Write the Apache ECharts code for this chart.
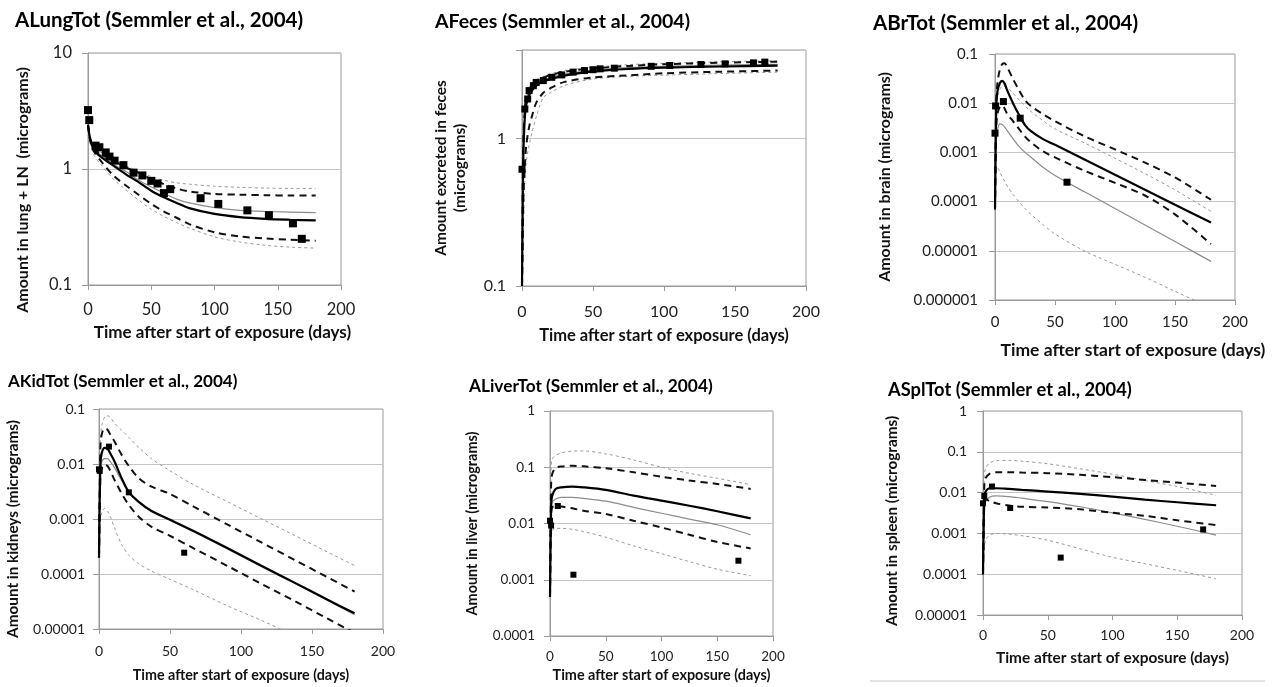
<!DOCTYPE html>
<html>
<head>
<meta charset="utf-8">
<title>Semmler et al., 2004</title>
<script src="https://cdn.jsdelivr.net/npm/echarts@6/dist/echarts.min.js"></script>
<style>
  html, body { margin: 0; padding: 0; background: #fff; }
  #chart { width: 1284px; height: 687px; }
</style>
</head>
<body>
<div id="chart"></div>
<script>
'use strict';

// ALungTot
var lungT    = [0, 2, 5, 10, 20, 30, 40, 50, 60, 70, 80, 100, 120, 140, 160, 180];
var lungMed  = [2.4, 1.75, 1.45, 1.28, 1.07, 0.9, 0.77, 0.65, 0.57, 0.51, 0.46, 0.41, 0.385, 0.372, 0.365, 0.36];
var lungMean = [2.4, 1.8, 1.5, 1.32, 1.1, 0.95, 0.8, 0.7, 0.62, 0.55, 0.51, 0.465, 0.44, 0.43, 0.425, 0.42];
var lungP75  = [2.4, 1.8, 1.5, 1.35, 1.18, 1.03, 0.93, 0.82, 0.74, 0.68, 0.64, 0.61, 0.6, 0.595, 0.59, 0.59];
var lungP95  = [2.4, 1.85, 1.55, 1.4, 1.22, 1.07, 0.95, 0.86, 0.8, 0.76, 0.74, 0.71, 0.695, 0.685, 0.68, 0.68];
var lungP25  = [2.4, 1.7, 1.4, 1.18, 0.88, 0.72, 0.6, 0.5, 0.43, 0.38, 0.335, 0.285, 0.262, 0.252, 0.246, 0.241];
var lungP5   = [2.4, 1.65, 1.3, 1.1, 0.82, 0.66, 0.54, 0.45, 0.39, 0.345, 0.31, 0.26, 0.235, 0.22, 0.212, 0.208];
var lungObsT = [0, 1, 6, 9, 14, 17, 21, 28, 36, 43, 50, 55, 60, 65, 89, 103, 126, 143, 162, 169];
var lungObs  = [3.22, 2.64, 1.59, 1.54, 1.39, 1.28, 1.18, 1.08, 0.93, 0.88, 0.79, 0.75, 0.62, 0.67, 0.56, 0.5, 0.44, 0.4, 0.34, 0.25];

// AFeces
var fecT    = [0, 0.5, 1, 2, 3, 5, 7, 10, 15, 20, 30, 50, 75, 100, 140, 180];
var fecMed  = [0.1, 0.35, 0.8, 1.4, 1.7, 1.96, 2.12, 2.29, 2.45, 2.54, 2.68, 2.86, 2.98, 3.04, 3.09, 3.13];
var fecMean = [0.1, 0.4, 0.9, 1.5, 1.8, 2.05, 2.2, 2.35, 2.5, 2.6, 2.74, 2.92, 3.04, 3.1, 3.16, 3.2];
var fecP75  = [0.1, 0.5, 1.0, 1.6, 1.9, 2.15, 2.3, 2.45, 2.6, 2.7, 2.85, 3.0, 3.12, 3.2, 3.28, 3.33];
var fecP95  = [0.1, 0.55, 1.1, 1.7, 2.0, 2.25, 2.4, 2.52, 2.65, 2.75, 2.9, 3.05, 3.18, 3.25, 3.33, 3.38];
var fecP25  = [0.1, 0.2, 0.4, 0.65, 0.9, 1.2, 1.42, 1.75, 2.05, 2.2, 2.43, 2.6, 2.69, 2.78, 2.85, 2.9];
var fecP5   = [0.1, 0.15, 0.25, 0.5, 0.7, 0.9, 1.1, 1.4, 1.9, 2.05, 2.3, 2.54, 2.65, 2.7, 2.77, 2.83];
var fecObsT = [0, 2, 4, 5, 8, 10, 15, 21, 28, 36, 44, 50, 55, 65, 91, 104, 126, 143, 163, 171];
var fecObs  = [0.62, 1.59, 1.86, 2.12, 2.29, 2.41, 2.48, 2.61, 2.71, 2.83, 2.9, 2.94, 2.98, 3.01, 3.1, 3.14, 3.19, 3.22, 3.27, 3.31];

// ABrTot
var brT    = [0, 1, 2, 4, 6, 8, 10, 15, 20, 25, 30, 40, 50, 75, 100, 125, 150, 180];
var brMed  = [0.00007, 0.0086, 0.0173, 0.0255, 0.0284, 0.025, 0.0187, 0.01, 0.0058, 0.0036, 0.0027, 0.00186, 0.00143, 0.00071, 0.00035, 0.000174, 0.000086, 0.0000376];
var brMean = [0.00007, 0.0015, 0.0028, 0.0038, 0.0037, 0.0033, 0.0028, 0.0019, 0.00132, 0.001, 0.0008, 0.0005, 0.00034, 0.000156, 0.0000723, 0.0000334, 0.0000154, 0.0000061];
var brP75  = [0.00007, 0.01, 0.025, 0.048, 0.062, 0.065, 0.055, 0.031, 0.0185, 0.0115, 0.0087, 0.006, 0.0043, 0.0021, 0.00115, 0.00062, 0.00031, 0.000109];
var brP95  = [0.00007, 0.006, 0.012, 0.019, 0.022, 0.022, 0.021, 0.016, 0.0117, 0.0088, 0.0068, 0.0044, 0.003, 0.00154, 0.00076, 0.00037, 0.000173, 0.0000632];
var brP25  = [0.00007, 0.003, 0.006, 0.0085, 0.009, 0.0078, 0.0062, 0.0043, 0.003, 0.0021, 0.0016, 0.00105, 0.00079, 0.00042, 0.00024, 0.000133, 0.000055, 0.0000137];
var brP5   = [0.00007, 0.00045, 0.00048, 0.0004, 0.00032, 0.00026, 0.00021, 0.00014, 0.0001, 0.000072, 0.000055, 0.000034, 0.000022, 0.0000098, 0.0000053, 0.0000029, 0.0000015, 0.0000007];
var brObsT = [0, 0.5, 7, 21, 60];
var brObs  = [0.00246, 0.0088, 0.0108, 0.00496, 0.000248];

// AKidTot
var kidT    = [0, 1, 2, 4, 6, 8, 11, 16, 21, 28, 37, 49, 67, 91, 114, 138, 161, 180];
var kidMed  = [0.0002, 0.01, 0.016, 0.0197, 0.019, 0.0155, 0.011, 0.0055, 0.0031, 0.00205, 0.0014, 0.001, 0.0006, 0.00029, 0.000143, 0.000069, 0.000034, 0.0000193];
var kidMean = [0.0002, 0.0075, 0.011, 0.0125, 0.0125, 0.011, 0.0085, 0.005, 0.003, 0.002, 0.00137, 0.00097, 0.00058, 0.00028, 0.000138, 0.000067, 0.000033, 0.0000182];
var kidP75  = [0.0002, 0.02, 0.035, 0.0445, 0.042, 0.034, 0.0255, 0.0146, 0.0092, 0.0055, 0.00387, 0.00293, 0.00166, 0.00078, 0.00038, 0.000179, 0.000087, 0.000048];
var kidP95  = [0.0002, 0.03, 0.05, 0.072, 0.0755, 0.07, 0.055, 0.041, 0.0305, 0.02, 0.0125, 0.0078, 0.00415, 0.00203, 0.00102, 0.0005, 0.00025, 0.000142];
var kidP25  = [0.0002, 0.006, 0.0085, 0.0099, 0.0092, 0.0075, 0.0051, 0.0029, 0.0018, 0.0011, 0.00072, 0.00051, 0.00029, 0.000138, 0.000067, 0.000032, 0.0000154, 0.0000085];
var kidP5   = [0.0002, 0.0009, 0.0013, 0.00156, 0.0014, 0.0011, 0.00068, 0.00034, 0.00022, 0.000153, 0.000113, 0.000082, 0.000051, 0.000026, 0.0000145, 0.0000075, 0.000004, 0.0000025];
var kidObsT = [0, 0.5, 7, 21, 60];
var kidObs  = [0.008, 0.0075, 0.0207, 0.00305, 0.000244];

// ALiverTot
var livT    = [0, 1, 2, 5, 10, 20, 30, 50, 75, 100, 125, 150, 180];
var livMed  = [0.0005, 0.02, 0.0313, 0.0411, 0.044, 0.0453, 0.044, 0.0395, 0.0313, 0.0255, 0.0207, 0.0165, 0.0123];
var livMean = [0.0005, 0.017, 0.024, 0.0273, 0.0292, 0.0292, 0.028, 0.0249, 0.0194, 0.0152, 0.012, 0.0095, 0.0063];
var livP75  = [0.0005, 0.05, 0.076, 0.097, 0.103, 0.106, 0.104, 0.096, 0.0815, 0.068, 0.058, 0.0505, 0.0411];
var livP95  = [0.0005, 0.1, 0.14, 0.161, 0.18, 0.193, 0.195, 0.173, 0.135, 0.1, 0.078, 0.0637, 0.049];
var livP25  = [0.0005, 0.014, 0.0194, 0.0202, 0.02, 0.0186, 0.0169, 0.0148, 0.0112, 0.0085, 0.0063, 0.0047, 0.0036];
var livP5   = [0.0005, 0.005, 0.0076, 0.0081, 0.0082, 0.0079, 0.0072, 0.0057, 0.004, 0.0029, 0.0021, 0.00154, 0.00118];
var livObsT = [0, 1, 7, 21, 169];
var livObs  = [0.0112, 0.0092, 0.0205, 0.00123, 0.00218];

// ASplTot
var splT    = [0, 1, 2, 5, 10, 20, 30, 50, 75, 100, 125, 150, 180];
var splMed  = [0.0001, 0.008, 0.0106, 0.0128, 0.0128, 0.0123, 0.0117, 0.0106, 0.0093, 0.008, 0.0067, 0.0058, 0.0049];
var splMean = [0.0001, 0.004, 0.006, 0.0077, 0.0083, 0.008, 0.0073, 0.006, 0.0045, 0.0032, 0.0022, 0.0015, 0.00091];
var splP75  = [0.0001, 0.015, 0.0226, 0.0288, 0.0316, 0.0316, 0.031, 0.03, 0.0273, 0.0239, 0.0205, 0.0176, 0.0146];
var splP95  = [0.0001, 0.025, 0.0398, 0.0528, 0.0604, 0.0615, 0.059, 0.0509, 0.0383, 0.0283, 0.0198, 0.0141, 0.0086];
var splP25  = [0.0001, 0.0055, 0.0069, 0.0062, 0.0055, 0.0048, 0.0045, 0.0043, 0.0039, 0.0032, 0.0027, 0.0021, 0.0016];
var splP5   = [0.0001, 0.0004, 0.00068, 0.0009, 0.001, 0.00096, 0.00088, 0.00068, 0.00042, 0.00026, 0.000181, 0.000124, 0.0000773];
var splObsT = [0, 1, 7, 21, 60, 170];
var splObs  = [0.00546, 0.0083, 0.0141, 0.0042, 0.000255, 0.00125];

var xTitle = 'Time after start of exposure (days)';
var FONT = 'Lato, "Liberation Sans", sans-serif';

var panels = [
  {title: 'ALungTot (Semmler et al., 2004)', yName: 'Amount in lung + LN  (micrograms)', yMin: 0.1, yMax: 10,
   t: lungT, med: lungMed, mean: lungMean, p75: lungP75, p95: lungP95, p25: lungP25, p5: lungP5, obsT: lungObsT, obs: lungObs},
  {title: 'AFeces (Semmler et al., 2004)', yName: 'Amount excreted in feces\n(micrograms)', yMin: 0.1, yMax: 4,
   t: fecT, med: fecMed, mean: fecMean, p75: fecP75, p95: fecP95, p25: fecP25, p5: fecP5, obsT: fecObsT, obs: fecObs},
  {title: 'ABrTot (Semmler et al., 2004)', yName: 'Amount in brain (micrograms)', yMin: 0.000001, yMax: 0.1,
   t: brT, med: brMed, mean: brMean, p75: brP75, p95: brP95, p25: brP25, p5: brP5, obsT: brObsT, obs: brObs},
  {title: 'AKidTot (Semmler et al., 2004)', yName: 'Amount in kidneys (micrograms)', yMin: 0.00001, yMax: 0.1,
   t: kidT, med: kidMed, mean: kidMean, p75: kidP75, p95: kidP95, p25: kidP25, p5: kidP5, obsT: kidObsT, obs: kidObs},
  {title: 'ALiverTot (Semmler et al., 2004)', yName: 'Amount in liver (micrograms)', yMin: 0.0001, yMax: 1,
   t: livT, med: livMed, mean: livMean, p75: livP75, p95: livP95, p25: livP25, p5: livP5, obsT: livObsT, obs: livObs},
  {title: 'ASplTot (Semmler et al., 2004)', yName: 'Amount in spleen (micrograms)', yMin: 0.00001, yMax: 1,
   t: splT, med: splMed, mean: splMean, p75: splP75, p95: splP95, p25: splP25, p5: splP5, obsT: splObsT, obs: splObs}
];

// pixel boxes of the six plot areas and their text sizes
var layout = [
  {left: 88,  top: 53,  width: 253, height: 232, tx: 15,  ty: 10,  tSize: 20.5, lab: 16.5, xLabM: 16, yLabM: 16,
   xn: 17,   yn: 16,   xGap: 39, yGap: 55,  yPad: [0, 42, 0, 0], xPad: [0, 0, 0, 16], sq: 8},
  {left: 522, top: 50,  width: 284, height: 236, tx: 435, ty: 12,  tSize: 19.5, lab: 16, xLabM: 18, yLabM: 16,
   xn: 16.5, yn: 15.5, xGap: 41, yGap: 52,  yPad: 0, xPad: 0, sq: 7},
  {left: 995, top: 54,  width: 240, height: 246, tx: 873, ty: 13,  tSize: 20.5, lab: 15, xLabM: 15, yLabM: 17,
   xn: 17.5, yn: 16,   xGap: 41, yGap: 100, yPad: 0, xPad: [0, 0, 0, 36], sq: 7},
  {left: 99,  top: 409, width: 284, height: 220, tx: 8,   ty: 373, tSize: 17, lab: 14, xLabM: 15, yLabM: 14,
   xn: 14.3, yn: 15.3, xGap: 39, yGap: 76,  yPad: [0, 20, 0, 0], xPad: 0, sq: 6},
  {left: 550, top: 411, width: 223, height: 225, tx: 469, ty: 378, tSize: 17.3, lab: 13.5, xLabM: 14, yLabM: 15,
   xn: 14.4, yn: 14.4, xGap: 32, yGap: 69,  yPad: 0, xPad: 0, sq: 6},
  {left: 983, top: 411, width: 259, height: 204, tx: 888, ty: 381, tSize: 18.3, lab: 14, xLabM: 13, yLabM: 16,
   xn: 15.4, yn: 15.3, xGap: 36, yGap: 81,  yPad: [0, 16, 0, 0], xPad: 0, sq: 6}
];

var lineStyles = {
  med:  {color: '#000',    width: 2.2, type: 'solid'},
  mean: {color: '#8c8c8c', width: 1.2, type: 'solid'},
  p75:  {color: '#111',    width: 2,   type: [7, 5]},
  p25:  {color: '#111',    width: 2,   type: [7, 5]},
  p95:  {color: '#999',    width: 1,   type: [3, 3]},
  p5:   {color: '#999',    width: 1,   type: [3, 3]}
};

function pairs(xs, ys) {
  return xs.map(function (x, i) { return [x, ys[i]]; });
}

function decadeLabel(v) {
  var lg = Math.log10(v);
  var p = Math.round(lg);
  if (Math.abs(lg - p) > 1e-6) return '';
  return p >= 0 ? String(Math.pow(10, p)) : Math.pow(10, p).toFixed(-p);
}

var option = {
  animation: false,
  backgroundColor: '#fff',
  textStyle: {fontFamily: FONT},
  title: [], grid: [], xAxis: [], yAxis: [], series: [],
  graphic: [{
    type: 'line', shape: {x1: 870, y1: 681, x2: 1265, y2: 681},
    style: {stroke: '#c8c8c8', lineWidth: 1}
  }]
};

panels.forEach(function (p, i) {
  var L = layout[i];
  option.title.push({
    text: p.title, left: L.tx, top: L.ty, padding: 0,
    textStyle: {fontFamily: FONT, fontWeight: 'bold', fontSize: L.tSize, color: '#000'}
  });
  option.grid.push({
    left: L.left, top: L.top, width: L.width, height: L.height,
    show: true, borderColor: '#9a9a9a', borderWidth: 1, backgroundColor: 'transparent'
  });
  option.xAxis.push({
    type: 'value', gridIndex: i, min: 0, max: 200, interval: 50,
    name: xTitle, nameLocation: 'middle', nameGap: L.xGap,
    nameTextStyle: {fontFamily: FONT, fontWeight: 'bold', fontSize: L.xn, color: '#111', padding: L.xPad},
    axisLine: {show: true, onZero: false, lineStyle: {color: '#9a9a9a'}},
    axisTick: {show: true, length: 5, lineStyle: {color: '#9a9a9a'}},
    splitLine: {show: false},
    axisLabel: {fontFamily: FONT, fontSize: L.lab, color: '#222', margin: L.xLabM}
  });
  option.yAxis.push({
    type: 'log', logBase: 10, gridIndex: i, min: p.yMin, max: p.yMax,
    name: p.yName, nameLocation: 'middle', nameGap: L.yGap,
    nameTextStyle: {fontFamily: FONT, fontWeight: 'bold', fontSize: L.yn, color: '#111', padding: L.yPad, lineHeight: L.yn * 1.25},
    axisLine: {show: true, onZero: false, lineStyle: {color: '#9a9a9a'}},
    axisTick: {show: true, length: 6, lineStyle: {color: '#9a9a9a'}},
    minorTick: {show: false},
    splitLine: {show: true, lineStyle: {color: '#c4c4c4', width: 1}},
    axisLabel: {fontFamily: FONT, fontSize: L.lab, color: '#222', margin: L.yLabM, formatter: decadeLabel}
  });
  ['p5', 'p95', 'mean', 'p25', 'p75', 'med'].forEach(function (key) {
    option.series.push({
      type: 'line', xAxisIndex: i, yAxisIndex: i,
      data: pairs(p.t, p[key]),
      smooth: 0.3, symbol: 'none', showSymbol: false, clip: true,
      lineStyle: lineStyles[key], z: 2
    });
  });
  option.series.push({
    type: 'scatter', xAxisIndex: i, yAxisIndex: i,
    data: pairs(p.obsT, p.obs),
    symbol: 'rect', symbolSize: L.sq, itemStyle: {color: '#000', opacity: 1}, z: 5
  });
});

var chart = echarts.init(document.getElementById('chart'), null, {renderer: 'canvas'});
chart.setOption(option);
</script>
</body>
</html>
